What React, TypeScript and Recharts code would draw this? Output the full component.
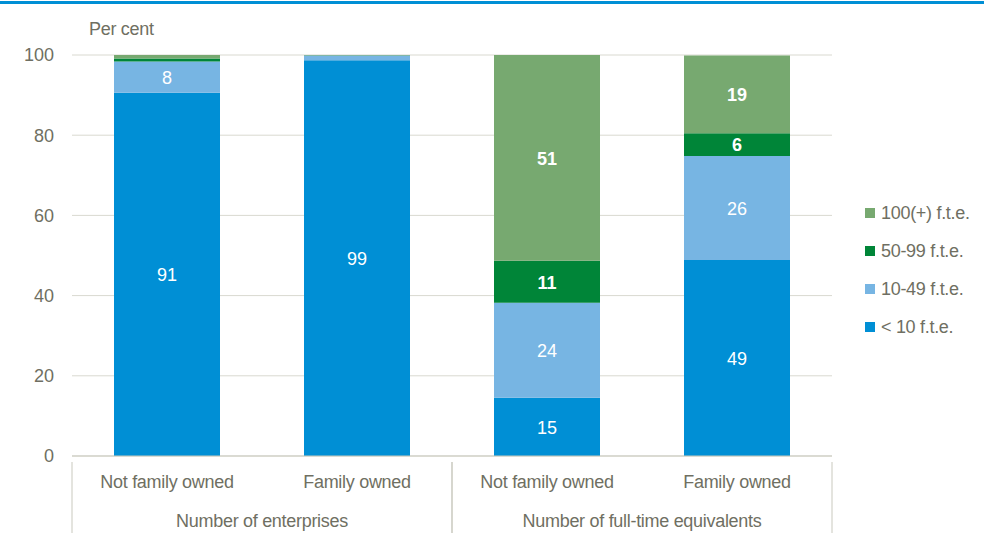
import React from "react";
import { BarChart, Bar, XAxis, YAxis, CartesianGrid, LabelList } from "recharts";

const categories = ["Not family owned", "Family owned", "Not family owned", "Family owned"];
const groups = ["Number of enterprises", "Number of enterprises", "Number of full-time equivalents", "Number of full-time equivalents"];
const lt10 = [90.6, 98.7, 14.5, 48.9];
const f10to49 = [7.8, 1.2, 23.7, 25.9];
const f50to99 = [0.7, 0.05, 10.5, 5.7];
const f100plus = [0.9, 0.05, 51.3, 19.4];
const yTicks = [0, 20, 40, 60, 80, 100];

const seriesDefs = [
  { key: "lt10", name: "< 10 f.t.e.", color: "#008FD5", bold: false },
  { key: "f10to49", name: "10-49 f.t.e.", color: "#77B5E3", bold: false },
  { key: "f50to99", name: "50-99 f.t.e.", color: "#008538", bold: true },
  { key: "f100plus", name: "100(+) f.t.e.", color: "#77A970", bold: true },
];

const data = categories.map((c, i) => ({
  id: `${i}`,
  name: c,
  group: groups[i],
  lt10: lt10[i],
  f10to49: f10to49[i],
  f50to99: f50to99[i],
  f100plus: f100plus[i],
}));

const FONT = "'Liberation Sans', Arial, sans-serif";
const TEXT = "#6F6F62";
const AXIS = "#C9C9BE";
const FS = 18;

const CatTick = (props: any) => {
  const { x, y, payload } = props;
  return (
    <text x={x} y={y + 24} textAnchor="middle" fill={TEXT} fontSize={FS} letterSpacing={-0.3} fontFamily={FONT}>
      {categories[payload.index] ?? payload.value}
    </text>
  );
};

const GroupTick = (props: any) => {
  const { x, y, payload } = props;
  const off = payload.offset ?? 190;
  return (
    <g>
      <line x1={x - off} x2={x - off} y1={y - 42} y2={y + 36} stroke={AXIS} strokeWidth={1} />
      <line x1={x + off} x2={x + off} y1={y - 42} y2={y + 36} stroke={AXIS} strokeWidth={1} />
      <text x={x} y={y + 23} textAnchor="middle" fill={TEXT} fontSize={FS} letterSpacing={-0.3} fontFamily={FONT}>
        {payload.value}
      </text>
    </g>
  );
};

const makeLabel = (bold: boolean) => (props: any) => {
  const { x, y, width, height, value } = props;
  if (value == null || value < 5) return null;
  return (
    <text
      x={x + width / 2}
      y={y + height / 2}
      dy="0.38em"
      textAnchor="middle"
      fill="#FFFFFF"
      fontSize={FS}
      fontWeight={bold ? "bold" : "normal"}
      fontFamily={FONT}
    >
      {Math.round(value)}
    </text>
  );
};

export default function App() {
  return (
    <div style={{ position: "absolute", left: 0, top: 0, width: 984, height: 533, background: "#fff", overflow: "hidden" }}>
      <div style={{ position: "absolute", left: 0, top: 1, width: 984, height: 3, background: "#008FD5" }} />
      <div
        style={{
          position: "absolute",
          left: 89,
          top: 18,
          fontFamily: FONT,
          fontSize: FS,
          letterSpacing: -0.3,
          color: TEXT,
          lineHeight: "22px",
        }}
      >
        Per cent
      </div>
      <div style={{ position: "absolute", left: 865, top: 194, fontFamily: FONT, fontSize: FS, letterSpacing: -0.3, color: TEXT }}>
        {[...seriesDefs].reverse().map((s) => (
          <div key={s.key} style={{ display: "flex", alignItems: "center", height: 38 }}>
            <span style={{ width: 10, height: 10, background: s.color, display: "inline-block", marginRight: 6 }} />
            <span>{s.name}</span>
          </div>
        ))}
      </div>
      <BarChart
        width={984}
        height={533}
        data={data}
        margin={{ top: 55, right: 152, bottom: 0, left: 12 }}
        barCategoryGap={42}
      >
        <CartesianGrid vertical={false} stroke="#D9D9D0" />
        <XAxis
          dataKey="id"
          xAxisId={0}
          height={40}
          tickLine={false}
          axisLine={{ stroke: AXIS }}
          tick={<CatTick />}
          interval={0}
        />
        <XAxis
          dataKey="group"
          xAxisId="group"
          allowDuplicatedCategory={false}
          height={37}
          tickLine={false}
          axisLine={false}
          tick={<GroupTick />}
          interval={0}
        />
        <YAxis
          width={60}
          domain={[0, 100]}
          ticks={yTicks}
          tickLine={false}
          axisLine={false}
          tick={{ fill: TEXT, fontSize: FS, fontFamily: FONT }}
          tickMargin={12}
        />
        {seriesDefs.map((s) => (
          <Bar key={s.key} dataKey={s.key} name={s.name} stackId="a" fill={s.color} isAnimationActive={false}>
            <LabelList dataKey={s.key} content={makeLabel(s.bold)} />
          </Bar>
        ))}
      </BarChart>
    </div>
  );
}
